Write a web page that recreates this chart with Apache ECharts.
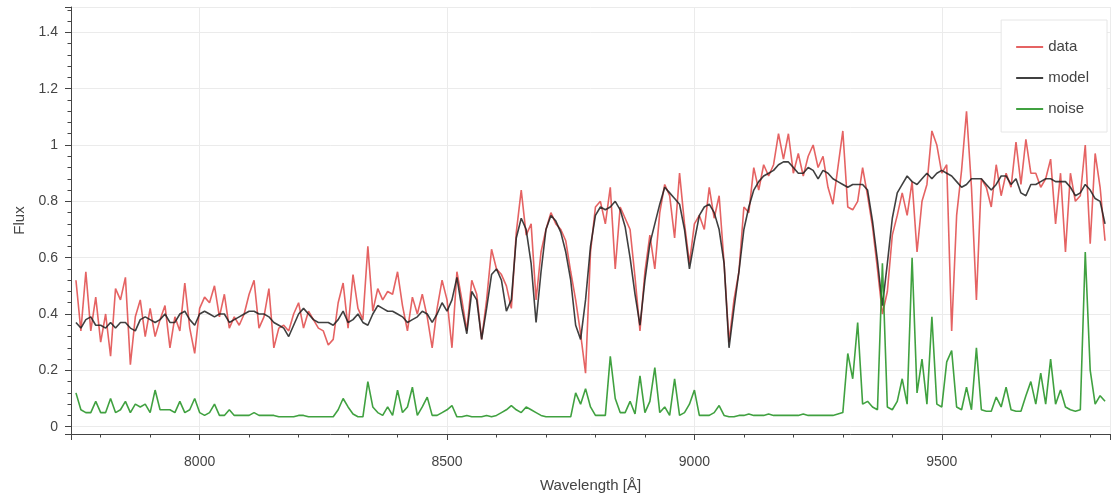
<!DOCTYPE html>
<html>
<head>
<meta charset="utf-8">
<script src="https://cdn.jsdelivr.net/npm/echarts@6/dist/echarts.min.js"></script>
<style>
html,body{margin:0;padding:0;background:#fff;}
#chart{width:1118px;height:498px;}
</style>
</head>
<body>
<div id="chart"></div>
<script>
// Wavelength sampling grid (Å)
const waveStart = 7750;
const waveStep = 10;

const dataFlux = [
0.52,0.34,0.55,0.34,0.46,0.30,0.40,0.25,0.49,0.45,
0.53,0.22,0.39,0.45,0.32,0.42,0.32,0.38,0.43,0.28,
0.39,0.34,0.51,0.35,0.26,0.42,0.46,0.44,0.50,0.39,
0.47,0.35,0.39,0.36,0.40,0.47,0.52,0.35,0.39,0.49,
0.28,0.35,0.36,0.34,0.40,0.44,0.35,0.41,0.38,0.35,
0.34,0.29,0.31,0.44,0.51,0.35,0.54,0.42,0.38,0.64,
0.41,0.49,0.45,0.48,0.47,0.55,0.43,0.34,0.46,0.40,
0.47,0.39,0.28,0.42,0.52,0.45,0.28,0.55,0.45,0.34,
0.52,0.47,0.31,0.45,0.63,0.56,0.54,0.50,0.42,0.69,
0.84,0.68,0.72,0.45,0.62,0.70,0.76,0.72,0.70,0.66,
0.55,0.45,0.33,0.19,0.62,0.78,0.80,0.72,0.85,0.56,
0.78,0.74,0.70,0.53,0.34,0.55,0.68,0.56,0.76,0.86,
0.82,0.67,0.90,0.72,0.58,0.72,0.75,0.70,0.85,0.74,
0.82,0.58,0.30,0.45,0.55,0.78,0.76,0.92,0.84,0.93,
0.89,0.93,1.04,0.95,1.04,0.90,0.97,0.89,0.96,1.00,
0.92,0.96,0.85,0.79,0.92,1.05,0.78,0.77,0.80,0.92,
0.82,0.71,0.56,0.40,0.48,0.68,0.75,0.83,0.75,0.87,
0.62,0.80,0.86,1.05,1.00,0.90,0.93,0.34,0.75,0.91,
1.12,0.85,0.45,0.88,0.85,0.78,0.93,0.82,0.90,0.85,
1.01,0.86,1.02,0.90,0.90,0.85,0.88,0.95,0.72,0.90,
0.62,0.90,0.80,0.82,1.00,0.65,0.97,0.85,0.66
];

const modelFlux = [
0.37,0.35,0.38,0.39,0.36,0.36,0.35,0.37,0.35,0.37,
0.37,0.35,0.34,0.38,0.39,0.38,0.37,0.38,0.40,0.37,
0.37,0.40,0.41,0.38,0.36,0.40,0.41,0.40,0.39,0.40,
0.40,0.37,0.38,0.39,0.40,0.41,0.41,0.40,0.40,0.39,
0.37,0.36,0.35,0.32,0.36,0.40,0.42,0.40,0.38,0.37,
0.37,0.37,0.36,0.38,0.41,0.37,0.38,0.40,0.37,0.36,
0.40,0.43,0.42,0.41,0.41,0.40,0.39,0.37,0.38,0.39,
0.41,0.40,0.37,0.40,0.44,0.41,0.45,0.53,0.42,0.33,
0.48,0.45,0.31,0.42,0.54,0.56,0.52,0.41,0.45,0.67,
0.74,0.70,0.58,0.37,0.55,0.70,0.75,0.73,0.69,0.62,
0.52,0.36,0.31,0.45,0.64,0.75,0.78,0.77,0.78,0.80,
0.77,0.71,0.60,0.47,0.36,0.52,0.65,0.72,0.79,0.85,
0.83,0.81,0.79,0.70,0.56,0.66,0.75,0.78,0.79,0.76,
0.70,0.58,0.28,0.42,0.55,0.70,0.78,0.84,0.87,0.89,
0.90,0.91,0.93,0.94,0.94,0.92,0.90,0.90,0.92,0.91,
0.88,0.91,0.90,0.88,0.87,0.86,0.85,0.86,0.86,0.86,
0.84,0.73,0.59,0.43,0.58,0.74,0.83,0.86,0.89,0.87,
0.86,0.88,0.90,0.88,0.90,0.91,0.90,0.89,0.87,0.85,
0.86,0.88,0.88,0.88,0.86,0.84,0.86,0.89,0.89,0.86,
0.88,0.83,0.82,0.86,0.86,0.87,0.88,0.88,0.87,0.87,
0.87,0.85,0.82,0.83,0.86,0.84,0.81,0.80,0.72
];

const noiseFlux = [
0.12,0.06,0.05,0.05,0.09,0.05,0.05,0.10,0.05,0.06,
0.09,0.05,0.08,0.07,0.08,0.05,0.13,0.06,0.06,0.06,
0.05,0.09,0.05,0.06,0.10,0.05,0.04,0.05,0.08,0.04,
0.04,0.06,0.04,0.04,0.04,0.04,0.05,0.04,0.04,0.04,
0.04,0.035,0.035,0.035,0.035,0.04,0.04,0.035,0.035,0.035,
0.035,0.035,0.035,0.06,0.10,0.07,0.045,0.035,0.035,0.16,
0.07,0.05,0.04,0.07,0.04,0.13,0.05,0.07,0.14,0.04,
0.07,0.105,0.04,0.04,0.05,0.06,0.075,0.035,0.035,0.04,
0.035,0.035,0.035,0.04,0.035,0.04,0.05,0.06,0.075,0.06,
0.05,0.07,0.06,0.05,0.04,0.035,0.035,0.035,0.035,0.035,
0.035,0.12,0.08,0.135,0.07,0.04,0.04,0.04,0.25,0.10,
0.05,0.05,0.09,0.045,0.18,0.05,0.09,0.21,0.05,0.07,
0.04,0.17,0.04,0.05,0.08,0.13,0.04,0.04,0.04,0.05,
0.075,0.04,0.035,0.035,0.04,0.04,0.045,0.04,0.04,0.04,
0.045,0.04,0.04,0.04,0.04,0.04,0.04,0.045,0.04,0.04,
0.04,0.04,0.04,0.04,0.045,0.05,0.26,0.17,0.37,0.08,
0.09,0.07,0.06,0.58,0.07,0.06,0.09,0.17,0.08,0.60,
0.12,0.24,0.08,0.39,0.08,0.07,0.23,0.27,0.07,0.06,
0.14,0.06,0.28,0.06,0.055,0.055,0.105,0.07,0.14,0.06,
0.055,0.055,0.11,0.16,0.08,0.19,0.08,0.24,0.08,0.13,
0.07,0.06,0.055,0.06,0.62,0.20,0.08,0.11,0.09
];

const seriesNames = ['data', 'model', 'noise'];
const xAxisTitle = 'Wavelength [Å]';
const yAxisTitle = 'Flux';

function pairs(arr) {
  return arr.map((v, i) => [waveStart + i * waveStep, v]);
}

const FONT = '"Liberation Sans", Arial, Helvetica, sans-serif';
const chart = echarts.init(document.getElementById('chart'), null, {renderer: 'canvas'});

const axisCommon = {
  axisLine: {show: true, onZero: false, lineStyle: {color: '#444', width: 1}},
  axisTick: {show: true, length: 6, lineStyle: {color: '#444', width: 1}},
  minorTick: {show: true, splitNumber: 5, length: 3.5, lineStyle: {color: '#444', width: 1}},
  splitLine: {show: true, lineStyle: {color: '#ebebeb', width: 1}},
  axisLabel: {color: '#444', fontSize: 14, fontFamily: FONT, showMinLabel: false, showMaxLabel: false},
  nameTextStyle: {color: '#444', fontSize: 15, fontFamily: FONT}
};

chart.setOption({
  animation: false,
  backgroundColor: '#fff',
  grid: {left: 71, right: 8, top: 7, bottom: 61, containLabel: false},
  xAxis: Object.assign({}, axisCommon, {
    type: 'value',
    min: 7740, max: 9840,
    splitNumber: 4,
    name: xAxisTitle,
    nameLocation: 'middle',
    nameGap: 44,
    axisLabel: Object.assign({}, axisCommon.axisLabel, {
      margin: 21,
      formatter: v => String(Math.round(v))
    })
  }),
  yAxis: Object.assign({}, axisCommon, {
    type: 'value',
    min: -0.026, max: 1.49,
    splitNumber: 7,
    name: yAxisTitle,
    nameLocation: 'middle',
    nameGap: 44,
    axisLabel: Object.assign({}, axisCommon.axisLabel, {
      margin: 13,
      formatter: v => (Math.round(v * 10) / 10).toString()
    })
  }),
  legend: {
    data: seriesNames,
    orient: 'vertical',
    right: 11, top: 20,
    padding: [19, 18, 15, 15],
    itemGap: 15,
    itemWidth: 27, itemHeight: 2,
    icon: 'rect',
    backgroundColor: '#fff',
    borderColor: '#e6e6e6', borderWidth: 1,
    textStyle: {color: '#444', fontSize: 15, fontFamily: FONT, lineHeight: 16}
  },
  series: [
    {
      name: seriesNames[0], type: 'line', data: pairs(dataFlux),
      showSymbol: false, symbol: 'none',
      color: 'rgba(222,55,55,0.78)',
      lineStyle: {color: 'rgba(222,55,55,0.78)', width: 1.6},
      z: 2
    },
    {
      name: seriesNames[1], type: 'line', data: pairs(modelFlux),
      showSymbol: false, symbol: 'none',
      color: 'rgba(30,30,30,0.85)',
      lineStyle: {color: 'rgba(30,30,30,0.85)', width: 1.6},
      z: 3
    },
    {
      name: seriesNames[2], type: 'line', data: pairs(noiseFlux),
      showSymbol: false, symbol: 'none',
      color: 'rgba(30,145,30,0.85)',
      lineStyle: {color: 'rgba(30,145,30,0.85)', width: 1.6},
      z: 4
    }
  ]
});
</script>
</body>
</html>
